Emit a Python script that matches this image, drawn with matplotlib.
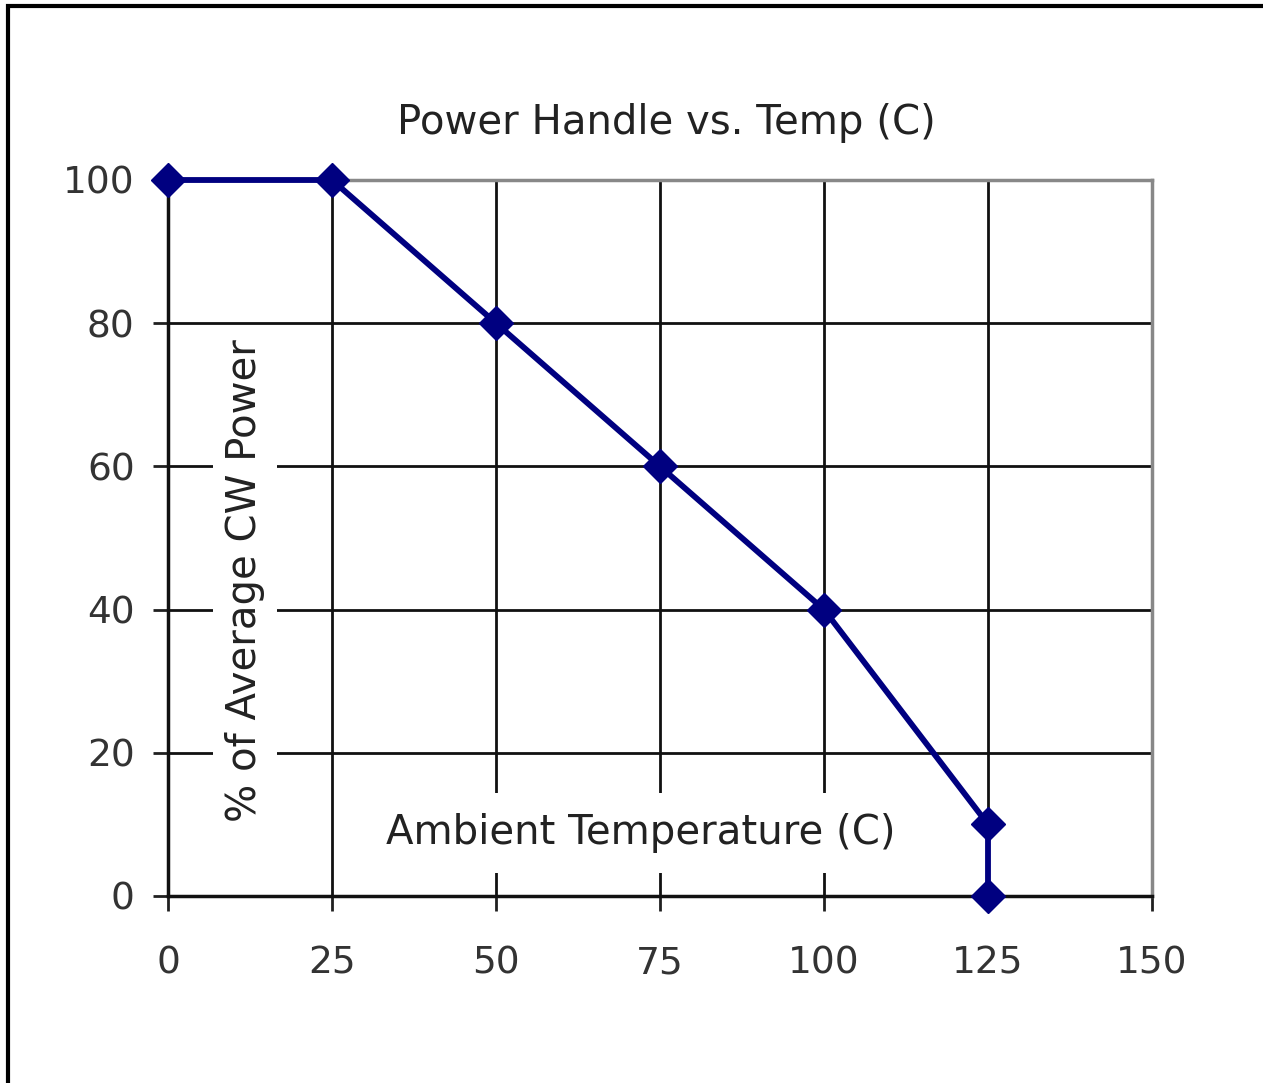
import matplotlib.pyplot as plt
from matplotlib.patches import Rectangle

# derating curve
temp = [0, 25, 50, 75, 100, 125, 125]
power = [100, 100, 80, 60, 40, 10, 0]

xticks = [0, 25, 50, 75, 100, 125, 150]
yticks = [0, 20, 40, 60, 80, 100]

plt.rcParams['font.family'] = 'DejaVu Sans'

fig = plt.figure(figsize=(12.63, 10.83), dpi=100)
ax = fig.add_axes([168/1263, 1 - 896/1083, 984/1263, 716/1083])

ax.plot(temp, power, color='#000080', lw=4.2, marker='D', markersize=17,
        markerfacecolor='#000080', markeredgecolor='#000080', clip_on=False, zorder=5)

ax.set_xlim(0, 150)
ax.set_ylim(0, 100)
ax.set_xticks(xticks)
ax.set_yticks(yticks)
ax.tick_params(axis='both', direction='out', length=11, width=2, colors='#202020',
               labelsize=27, labelcolor='#333333')
ax.tick_params(axis='x', pad=25)
ax.tick_params(axis='y', pad=13)

ax.grid(True, color='#111111', lw=2)
ax.set_axisbelow(True)
for s in ['left', 'bottom']:
    ax.spines[s].set_color('#111111')
    ax.spines[s].set_linewidth(2.5)
for s in ['top', 'right']:
    ax.spines[s].set_color('#888888')
    ax.spines[s].set_linewidth(2.5)

# labels sit inside the plot on white boxes
ax.text(11.7, 44.1, '% of Average CW Power', rotation=90, ha='center', va='center',
        fontsize=29, color='#222222', zorder=4,
        bbox=dict(facecolor='white', edgecolor='none', boxstyle='square,pad=0.3'))
ax.text(72.0, 8.8, 'Ambient Temperature (C)', ha='center', va='center',
        fontsize=29, color='#222222', zorder=4,
        bbox=dict(facecolor='white', edgecolor='none', boxstyle='square,pad=0.5'))

fig.text(666/1263, 1 - 123/1083, 'Power Handle vs. Temp (C)', ha='center', va='center',
         fontsize=29, color='#222222')

fig.patches.append(Rectangle((8/1263, -0.2), 1.2, 1.2 - 5.5/1083, transform=fig.transFigure,
                             fill=False, edgecolor='black', lw=3))

fig.savefig('out.png', dpi=100)
